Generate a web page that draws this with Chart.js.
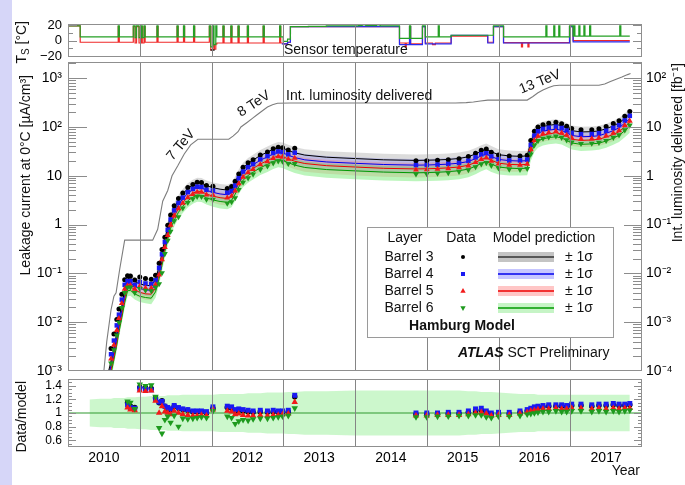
<!DOCTYPE html>
<html>
<head>
<meta charset="utf-8">
<title>SCT barrel leakage current</title>
<script src="https://cdn.jsdelivr.net/npm/chart.js"></script>
<style>
  html, body { margin: 0; padding: 0; background: #ffffff; }
  #page { position: relative; width: 685px; height: 485px; background: #ffffff; overflow: hidden; }
  #page canvas { position: absolute; left: 0; top: 0; }
  #edge { position: absolute; left: 0; top: 0; width: 12px; height: 485px; background: #d6d6f8; }
</style>
</head>
<body>
<div id="page">
  <div id="edge"></div>
  <canvas id="temp" width="685" height="485"></canvas>
  <canvas id="main" width="685" height="485"></canvas>
  <canvas id="ratio" width="685" height="485"></canvas>
</div>
<script>
// ---------------- data ----------------
const YEARS = ['2010', '2011', '2012', '2013', '2014', '2015', '2016', '2017'];
const YEAR_LINES = [2011, 2012, 2013, 2014, 2015, 2016, 2017];
const SERIES_NAMES = ['Barrel 3', 'Barrel 4', 'Barrel 5', 'Barrel 6'];
const LEAK_TICKS = [1e-3, 1e-2, 1e-1, 1, 10, 100, 1000];
const LUMI_TICKS = [1e-4, 1e-3, 1e-2, 1e-1, 1, 10, 100];
const RATIO_TICKS = [0.6, 0.8, 1, 1.2, 1.4];
const TEMP_TICKS = [-20, 0, 20];

// model prediction (Hamburg model), time in years
const MODEL_T = [
  2010.30, 2010.45, 2010.56, 2010.60, 2010.64, 2010.68, 2010.71, 2010.75, 2010.79, 2010.83,
  2010.87, 2010.93, 2011.00, 2011.08, 2011.16, 2011.22, 2011.27, 2011.31, 2011.35, 2011.39,
  2011.43, 2011.48, 2011.54, 2011.60, 2011.67, 2011.74, 2011.80, 2011.86, 2011.93, 2012.02,
  2012.12, 2012.22, 2012.28, 2012.33, 2012.38, 2012.44, 2012.51, 2012.58, 2012.68, 2012.78,
  2012.86, 2012.93, 2012.99, 2013.07, 2013.16, 2013.30, 2013.60, 2014.00, 2014.40, 2014.85,
  2015.00, 2015.15, 2015.30, 2015.45, 2015.58, 2015.68, 2015.76, 2015.83, 2015.90, 2016.00,
  2016.15, 2016.30, 2016.40, 2016.45, 2016.50, 2016.55, 2016.62, 2016.70, 2016.80, 2016.88,
  2016.95, 2017.02, 2017.15, 2017.30, 2017.40, 2017.50, 2017.60, 2017.68, 2017.76, 2017.83
];
const MODEL_B3 = [
  0.00005, 0.0003, 0.0009, 0.0016, 0.003, 0.006, 0.011, 0.022, 0.045, 0.078,
  0.080, 0.068, 0.061, 0.057, 0.056, 0.075, 0.14, 0.26, 0.50, 0.90,
  1.5, 2.2, 3.2, 4.2, 5.5, 6.5, 7.2, 7.1, 6.3, 5.7,
  5.3, 5.1, 5.6, 7.5, 10.5, 14.5, 18, 21, 26, 30.5,
  35, 38, 37, 33, 29.5, 26.5, 24, 22.5, 21.2, 20.6,
  20.8, 21.1, 21.6, 22.6, 24.5, 28, 32, 35, 31, 27,
  25.5, 25, 25.5, 50, 76, 92, 102, 108, 113, 106,
  95, 84, 79, 80, 83, 92, 105, 120, 150, 185
];
const MODEL_B4 = [
  0.00004, 0.00024, 0.00072, 0.0013, 0.0024, 0.0048, 0.0088, 0.0176, 0.036, 0.062,
  0.064, 0.054, 0.049, 0.046, 0.045, 0.06, 0.112, 0.21, 0.40, 0.72,
  1.2, 1.76, 2.56, 3.36, 4.4, 5.2, 5.76, 5.68, 5.04, 4.56,
  4.24, 4.08, 4.48, 6.0, 8.4, 11.6, 14.4, 16.8, 20.8, 24.4,
  28, 30.4, 29.6, 26.4, 23.6, 21.2, 19.2, 18, 17, 16.5,
  16.6, 16.9, 17.3, 18.1, 19.6, 22.4, 25.6, 28, 24.8, 21.6,
  20.4, 20, 20.4, 40, 61, 74, 82, 86, 90, 85,
  76, 67, 63, 64, 66, 74, 84, 96, 120, 148
];
const MODEL_B5 = [
  0.000034, 0.0002, 0.0006, 0.00107, 0.002, 0.004, 0.0074, 0.0147, 0.030, 0.052,
  0.054, 0.046, 0.041, 0.038, 0.0375, 0.05, 0.094, 0.174, 0.335, 0.60,
  1.0, 1.47, 2.14, 2.81, 3.69, 4.36, 4.82, 4.76, 4.22, 3.82,
  3.55, 3.42, 3.75, 5.0, 7.0, 9.7, 12.1, 14.1, 17.4, 20.4,
  23.5, 25.5, 24.8, 22.1, 19.8, 17.8, 16.1, 15.1, 14.2, 13.8,
  13.9, 14.1, 14.5, 15.1, 16.4, 18.8, 21.4, 23.5, 20.8, 18.1,
  17.1, 16.8, 17.1, 33.5, 51, 62, 68, 72, 76, 71,
  64, 56, 53, 54, 56, 62, 70, 80, 100, 124
];
const MODEL_B6 = [
  0.000028, 0.00017, 0.0005, 0.0009, 0.0017, 0.0034, 0.0062, 0.0123, 0.025, 0.044,
  0.045, 0.038, 0.034, 0.032, 0.031, 0.042, 0.078, 0.146, 0.28, 0.50,
  0.84, 1.23, 1.79, 2.35, 3.08, 3.64, 4.03, 3.98, 3.53, 3.19,
  2.97, 2.86, 3.14, 4.2, 5.9, 8.1, 10.1, 11.8, 14.6, 17.1,
  19.6, 21.3, 20.7, 18.5, 16.5, 14.8, 13.4, 12.6, 11.9, 11.5,
  11.6, 11.8, 12.1, 12.7, 13.7, 15.7, 17.9, 19.6, 17.4, 15.1,
  14.3, 14.0, 14.3, 28, 42.5, 51.5, 57, 60.5, 63, 59.5,
  53, 47, 44, 45, 46.5, 51.5, 59, 67, 84, 104
];
// relative model uncertainty (1 sigma)
const SIGMA = [
  0.20, 0.21, 0.21, 0.21, 0.22, 0.22, 0.22, 0.22, 0.22, 0.23,
  0.23, 0.23, 0.24, 0.24, 0.25, 0.25, 0.25, 0.25, 0.25, 0.26,
  0.26, 0.26, 0.26, 0.27, 0.27, 0.27, 0.27, 0.27, 0.27, 0.27,
  0.28, 0.28, 0.28, 0.28, 0.28, 0.28, 0.29, 0.29, 0.29, 0.30,
  0.30, 0.30, 0.30, 0.31, 0.31, 0.32, 0.32, 0.33, 0.33, 0.33,
  0.33, 0.33, 0.33, 0.33, 0.32, 0.32, 0.31, 0.31, 0.31, 0.30,
  0.29, 0.28, 0.28, 0.28, 0.28, 0.27, 0.27, 0.27, 0.27, 0.27,
  0.27, 0.27, 0.27, 0.27, 0.27, 0.27, 0.27, 0.27, 0.27, 0.27
];

// measured leakage current at 0 C [uA/cm3]
const DATA_T = [
  2010.60, 2010.64, 2010.68, 2010.71, 2010.75, 2010.79, 2010.83, 2010.87, 2010.93,
  2011.00, 2011.08, 2011.16, 2011.22, 2011.27, 2011.31, 2011.35, 2011.39, 2011.43, 2011.48, 2011.54, 2011.60, 2011.67, 2011.74, 2011.80, 2011.86, 2011.93,
  2012.02, 2012.22, 2012.28, 2012.33, 2012.38, 2012.44, 2012.51, 2012.58, 2012.68, 2012.78, 2012.86, 2012.93, 2012.99, 2013.07, 2013.16,
  2014.85, 2015.00, 2015.15, 2015.30, 2015.45, 2015.58, 2015.68, 2015.76, 2015.83, 2015.90,
  2016.00, 2016.15, 2016.30, 2016.40, 2016.45, 2016.50, 2016.55, 2016.62, 2016.70, 2016.80, 2016.88, 2016.95,
  2017.02, 2017.15, 2017.30, 2017.40, 2017.50, 2017.60, 2017.68, 2017.76, 2017.83
];
const DATA_B3 = [
  0.0029, 0.0057, 0.0114, 0.0187, 0.0374, 0.0743, 0.0897, 0.088, 0.0734,
  0.0842, 0.0781, 0.0762, 0.0915, 0.161, 0.307, 0.55, 0.963, 1.575, 2.42, 3.424, 4.41, 5.72, 6.63, 7.344, 7.242, 6.3,
  6.099, 5.508, 5.992, 7.725, 10.92, 14.94, 18.36, 21.21, 26.52, 30.81, 35.7, 38.38, 37.37, 33.66, 36.58,
  20.19, 20.38, 20.68, 21.38, 22.37, 24.75, 28.84, 33.28, 35.35, 30.38,
  26.73, 25.25, 25.25, 26.27, 52.5, 81.32, 99.36, 111.2, 118.8, 124.3, 116.6, 103.6,
  93.24, 87.69, 88, 92.13, 102.1, 117.6, 133.2, 166.5, 207.2
];
const DATA_B4 = [
  0.0022, 0.0042, 0.0086, 0.01426, 0.029, 0.0583, 0.0694, 0.0691, 0.0578,
  0.0666, 0.0621, 0.0603, 0.072, 0.13, 0.246, 0.44, 0.778, 1.272, 1.954, 2.765, 3.562, 4.62, 5.356, 5.933, 5.85, 5.141,
  4.97, 4.488, 4.883, 6.3, 8.904, 12.18, 14.98, 17.3, 21.63, 25.13, 29.12, 31.31, 30.49, 27.46, 29.74,
  16.5, 16.6, 16.9, 17.47, 18.28, 20.19, 23.74, 27.39, 28.84, 24.8,
  21.82, 20.6, 20.6, 21.42, 42.8, 66.49, 81.4, 91.02, 96.32, 100.8, 95.2, 84.36,
  75.71, 71.19, 71.68, 74.58, 83.62, 95.76, 108.5, 135.6, 168.7
];
const DATA_B5 = [
  0.00177, 0.0034, 0.0068, 0.012, 0.0243, 0.048, 0.0562, 0.0567, 0.0478,
  0.0545, 0.0502, 0.0499, 0.059, 0.094, 0.191, 0.342, 0.60, 0.98, 1.514, 2.14, 2.754, 3.579, 4.186, 4.627, 4.617, 4.051,
  4.011, 3.523, 3.825, 4.9, 6.93, 9.409, 11.62, 13.54, 16.88, 19.58, 22.8, 24.74, 24.3, 21.88, 22.97,
  13.25, 13.34, 13.68, 14.07, 14.65, 16.07, 18.8, 21.61, 23.27, 19.97,
  17.56, 16.59, 16.63, 17.27, 34.51, 53.04, 65.1, 72.08, 76.32, 81.32, 75.26, 67.84,
  59.92, 56.71, 57.24, 59.92, 65.72, 74.9, 84.8, 107, 132.7
];
const DATA_B6 = [
  0.00144, 0.0027, 0.0054, 0.00992, 0.0199, 0.04, 0.0515, 0.0518, 0.0403,
  0.0483, 0.0448, 0.0437, 0.0521, 0.0608, 0.102, 0.252, 0.475, 0.722, 1.181, 1.432, 2.162, 2.803, 3.349, 3.748, 3.741, 3.283,
  3.286, 2.717, 2.92, 3.528, 5.192, 7.29, 8.989, 10.74, 13.43, 15.73, 18.23, 20.02, 19.67, 17.76, 17.66,
  10.81, 10.9, 11.21, 11.5, 12.19, 13.15, 15.23, 17.36, 18.42, 16.18,
  14.35, 13.59, 13.44, 14.01, 27.72, 42.5, 52.02, 58.14, 61.71, 64.89, 60.69, 54.06,
  48.41, 45.32, 45.9, 47.9, 52.53, 60.77, 68.34, 86.52, 108.2
];

// integrated luminosity delivered [fb^-1]
const LUMI_T = [
  2010.50, 2010.54, 2010.60, 2010.64, 2010.67, 2010.72, 2010.79,
  2011.18, 2011.25, 2011.32, 2011.39, 2011.45, 2011.53, 2011.62, 2011.71, 2011.81,
  2012.24, 2012.30, 2012.37, 2012.41, 2012.50, 2012.57, 2012.64, 2012.71, 2012.78, 2012.85, 2012.92,
  2013.10,
  2015.40, 2015.55, 2015.65, 2015.75, 2015.85,
  2016.40, 2016.48, 2016.55, 2016.62, 2016.70, 2016.77, 2016.85,
  2017.40, 2017.48, 2017.56, 2017.64, 2017.72, 2017.80, 2017.84
];
const LUMI = [
  0.0001, 0.0004, 0.0018, 0.0034, 0.004, 0.012, 0.048,
  0.048, 0.08, 0.3, 0.5, 1.0, 1.6, 2.8, 4.3, 5.6,
  5.6, 6.5, 8.0, 10, 12.5, 15, 18, 21.5, 25.5, 28.5, 30.5,
  31,
  31, 31.5, 32.5, 34, 35.5,
  35.5, 42, 50, 57, 64, 70, 71.5,
  71.5, 76, 85, 95, 105, 118, 124
];

// sensor temperatures [C] as [time, value]; each value holds until the next entry
const TEMP_GREEN = [
  [2010.00, 19], [2010.17, 5], [2010.70, 19], [2010.715, 5], [2010.91, 19], [2010.935, 4], [2010.955, 19], [2010.99, 4],
  [2011.02, 19], [2011.035, 4], [2011.06, 19], [2011.075, 5], [2011.24, 19], [2011.255, 5], [2011.52, 19], [2011.535, 5],
  [2011.61, 19], [2011.625, 5], [2011.75, 19], [2011.765, 5], [2011.97, 19], [2011.99, -8], [2012.02, 19], [2012.035, -5],
  [2012.06, 19], [2012.075, 5], [2012.16, 19], [2012.175, 5], [2012.27, 19], [2012.285, 5], [2012.37, 19], [2012.385, 5],
  [2012.50, 19], [2012.515, 5], [2012.72, 19], [2012.735, 5], [2012.95, 19], [2012.965, 5], [2013.00, -1], [2013.06, 2],
  [2013.10, 18], [2013.35, 18.5], [2013.60, 19], [2014.05, 19.5], [2014.10, 20.5], [2014.15, 19.5], [2014.30, 20.5], [2014.35, 19],
  [2014.62, 3], [2014.76, 19], [2014.775, 3], [2014.94, 19], [2014.98, 5], [2015.16, 19], [2015.175, 5], [2015.34, 7],
  [2015.93, 19], [2016.07, 5], [2016.66, 19], [2016.675, 5], [2016.77, 19], [2016.785, 5], [2016.84, 19], [2016.855, 5],
  [2016.99, 19], [2017.04, 6], [2017.05, 19], [2017.065, 6], [2017.12, 19], [2017.135, 6], [2017.19, 19], [2017.205, 6],
  [2017.27, 19], [2017.285, 6], [2017.69, 19], [2017.705, 6], [2017.83, 6]
];
const TEMP_RED = [
  [2010.00, 19], [2010.17, -2], [2010.70, 18], [2010.715, -2], [2010.91, 18], [2010.935, -3], [2010.955, 18], [2010.99, -3],
  [2011.02, 18], [2011.035, -3], [2011.06, 18], [2011.075, -2], [2011.24, 18], [2011.255, -2], [2011.52, 18], [2011.535, -2],
  [2011.61, 18], [2011.625, -2], [2011.75, 18], [2011.765, -2], [2011.97, 18], [2011.99, -12], [2012.02, -5], [2012.04, -11],
  [2012.06, -4], [2012.075, -3], [2012.16, 18], [2012.175, -3], [2012.27, 18], [2012.285, -3], [2012.37, 18], [2012.385, -3],
  [2012.50, 18], [2012.515, -3], [2012.72, 18], [2012.735, -3], [2012.95, 18], [2012.965, -3], [2013.00, -4], [2013.06, -2],
  [2013.10, 18], [2014.62, -3], [2014.70, -8], [2014.715, -3], [2014.76, 18], [2014.775, -4], [2014.94, 18], [2014.98, -3],
  [2015.08, -5], [2015.12, -3], [2015.34, 6], [2015.85, -2], [2015.93, 18], [2016.07, -2.5], [2016.32, -8], [2016.335, -2.5],
  [2016.41, -8], [2016.425, -2.5], [2016.99, 18], [2017.04, 0], [2017.83, 0]
];
const TEMP_BLUE = [
  [2012.98, -4], [2013.06, -2], [2013.10, 18], [2014.62, -5], [2014.76, 18], [2014.775, -5], [2014.94, 18], [2014.98, -4],
  [2015.34, 7], [2015.85, -3], [2015.93, 18], [2016.07, -3], [2016.99, 18], [2017.04, -1.5], [2017.83, -1.5]
];
const TEMP_BLACK = [[2011.985, -12], [2012.045, -12]];

// ---------------- drawing ----------------
const FAMILY = '"Liberation Sans", Arial, Helvetica, sans-serif';
Chart.defaults.font.family = FAMILY;
Chart.defaults.font.size = 14;
Chart.defaults.color = '#000000';

const AXIS_W = 68;   // room for the left axis
const RIGHT_W = 43;  // room right of the frame
const GRID = '#858585';

function fontStr(size, style) { return (style ? style + ' ' : '') + size + 'px ' + FAMILY; }

const SUP = { '-': '\u207B', '0': '\u2070', '1': '\u00B9', '2': '\u00B2', '3': '\u00B3', '4': '\u2074' };
function powLabel(v) {
  const e = Math.round(Math.log10(v));
  if (e === 0) return '1';
  if (e === 1) return '10';
  return '10' + String(e).split('').map(c => SUP[c]).join('');
}
function logMinor(lo, hi) {
  const out = [];
  for (let e = Math.floor(Math.log10(lo)); e <= Math.ceil(Math.log10(hi)); e++) {
    for (let m = 2; m <= 9; m++) { const v = m * Math.pow(10, e); if (v > lo && v < hi) out.push(v); }
  }
  return out;
}
function linMinor(lo, hi, step, majors) {
  const out = [];
  for (let k = Math.ceil(lo / step); k * step <= hi; k++) {
    const v = Math.round(k * step * 1000) / 1000;
    if (!majors.some(m => Math.abs(m - v) < 1e-6)) out.push(v);
  }
  return out;
}

// frame, year grid lines and inward tick marks
function frame(axes) {
  return {
    id: 'rootFrame',
    afterDatasetsDraw(chart) {
      const { ctx, chartArea: a } = chart;
      const xs = chart.scales.x;
      ctx.save();
      ctx.strokeStyle = GRID;
      ctx.lineWidth = 1;
      ctx.beginPath();
      YEAR_LINES.forEach(yr => {
        const px = Math.round(xs.getPixelForValue(yr)) + 0.5;
        ctx.moveTo(px, a.top); ctx.lineTo(px, a.bottom);
      });
      ctx.stroke();
      ctx.strokeStyle = '#8c8c8c';
      ctx.beginPath();
      axes.forEach(ax => {
        const s = chart.scales[ax.id];
        const put = (v, len) => {
          const y = Math.round(s.getPixelForValue(v)) + 0.5;
          if (y < a.top + 1 || y > a.bottom - 1) return;
          if (ax.left) { ctx.moveTo(a.left, y); ctx.lineTo(a.left + len, y); }
          if (ax.right) { ctx.moveTo(a.right, y); ctx.lineTo(a.right - len, y); }
        };
        ax.major.forEach(v => put(v, ax.majorLen));
        ax.minor.forEach(v => put(v, ax.minorLen));
      });
      ctx.stroke();
      ctx.strokeStyle = '#8f8f8f';
      ctx.strokeRect(a.left + 0.5, a.top + 0.5, a.width - 1, a.height - 1);
      ctx.restore();
    }
  };
}

function vTitle(ctx, txt, x, yTop) {
  ctx.save();
  ctx.translate(x, yTop);
  ctx.rotate(-Math.PI / 2);
  ctx.textAlign = 'right';
  ctx.textBaseline = 'middle';
  ctx.fillText(txt, 0, 0);
  ctx.restore();
}
function rotText(ctx, txt, x, y, deg) {
  ctx.save();
  ctx.translate(x, y);
  ctx.rotate(deg * Math.PI / 180);
  ctx.textAlign = 'center';
  ctx.textBaseline = 'middle';
  ctx.fillText(txt, 0, 0);
  ctx.restore();
}
function drawMarker(ctx, style, x, y, r, color) {
  ctx.fillStyle = color;
  ctx.beginPath();
  if (style === 'circle') ctx.arc(x, y, r, 0, Math.PI * 2);
  else if (style === 'rect') ctx.rect(x - r, y - r, 2 * r, 2 * r);
  else if (style === 'up') { ctx.moveTo(x, y - r); ctx.lineTo(x + r * 0.9, y + r * 0.6); ctx.lineTo(x - r * 0.9, y + r * 0.6); ctx.closePath(); }
  else { ctx.moveTo(x, y + r); ctx.lineTo(x + r * 0.9, y - r * 0.6); ctx.lineTo(x - r * 0.9, y - r * 0.6); ctx.closePath(); }
  ctx.fill();
}

const xHidden = () => ({ type: 'linear', min: 2010, max: 2018, display: false });
const baseOpts = { responsive: false, animation: false, events: [], normalized: true };

// ---- temperature panel ----
function stepSet(pairs, color) {
  return {
    data: pairs.map(p => ({ x: p[0], y: p[1] })),
    borderColor: color, borderWidth: 1.2, pointRadius: 0, stepped: true, fill: false
  };
}
const tempDecor = {
  id: 'tempDecor',
  afterDraw(chart) {
    const ctx = chart.ctx;
    ctx.save();
    ctx.fillStyle = '#111';
    ctx.font = fontStr(14);
    ctx.textAlign = 'left';
    ctx.textBaseline = 'middle';
    ctx.fillText('Sensor temperature', 284, 50);
    // axis title T_S [°C]
    ctx.translate(22, 21);
    ctx.rotate(-Math.PI / 2);
    const big = fontStr(14), small = fontStr(10);
    ctx.font = big; const wT = ctx.measureText('T').width; const wR = ctx.measureText(' [\u00B0C]').width;
    ctx.font = small; const wS = ctx.measureText('S').width;
    let cx = -(wT + wS + wR);
    ctx.font = big; ctx.fillText('T', cx, 0); cx += wT;
    ctx.font = small; ctx.fillText('S', cx, 4); cx += wS;
    ctx.font = big; ctx.fillText(' [\u00B0C]', cx, 0);
    ctx.restore();
  }
};
new Chart(document.getElementById('temp'), {
  type: 'line',
  data: { datasets: [
    stepSet(TEMP_BLACK, '#000000'),
    stepSet(TEMP_GREEN, '#25a025'),
    stepSet(TEMP_BLUE, '#2a2af0'),
    stepSet(TEMP_RED, '#f02828')
  ] },
  options: Object.assign({}, baseOpts, {
    layout: { padding: { left: 0, right: RIGHT_W, top: 24, bottom: 428 } },
    plugins: { legend: { display: false }, tooltip: { enabled: false } },
    scales: {
      x: xHidden(),
      y: {
        type: 'linear', min: -21, max: 21.5, position: 'left',
        afterFit: s => { s.width = AXIS_W; },
        afterBuildTicks: s => { s.ticks = TEMP_TICKS.map(v => ({ value: v })); },
        grid: { display: false, drawTicks: false }, border: { display: false },
        ticks: { padding: 6, autoSkip: false, font: { size: 13 }, callback: v => (v < 0 ? '\u2212' + (-v) : String(v)) }
      }
    }
  }),
  plugins: [frame([{ id: 'y', left: true, right: true, major: TEMP_TICKS, minor: [-10, 10], majorLen: 9, minorLen: 5 }]), tempDecor]
});

// ---- main panel ----
const series = [
  { model: MODEL_B3, data: DATA_B3, line: '#000000', mark: '#000000', style: 'circle', r: 2.5, rot: 0, band: 'rgba(120,120,120,0.26)', key: '#c4c4c4', legend: 'circle' },
  { model: MODEL_B4, data: DATA_B4, line: '#0000ee', mark: '#1a1af2', style: 'rect', r: 3.2, rot: 0, band: 'rgba(90,90,255,0.24)', key: '#c6c6ff', legend: 'rect' },
  { model: MODEL_B5, data: DATA_B5, line: '#ee0000', mark: '#f21a1a', style: 'triangle', r: 3.4, rot: 0, band: 'rgba(255,90,90,0.24)', key: '#ffc6c6', legend: 'up' },
  { model: MODEL_B6, data: DATA_B6, line: '#009a00', mark: '#1e9a1e', style: 'triangle', r: 3.4, rot: 180, band: 'rgba(80,230,80,0.38)', key: '#c6f4c6', legend: 'down' }
];
const pointsOf = (vals) => DATA_T.map((t, i) => ({ x: t, y: vals[i] }));
const curveOf = (vals) => MODEL_T.map((t, i) => ({ x: t, y: vals[i] }));
function markSet(s, pts, scale) {
  return {
    data: pts, showLine: false, fill: false,
    pointStyle: s.style, pointRotation: s.rot, pointRadius: s.r * scale,
    pointBackgroundColor: s.mark, pointBorderColor: s.mark, pointBorderWidth: 0
  };
}
function lineSet(pts, color, width, axis) {
  return { data: pts, borderColor: color, borderWidth: width, pointRadius: 0, fill: false, yAxisID: axis || 'y' };
}
function bandSets(hi, lo, color) {
  return [
    { data: hi, borderWidth: 0, pointRadius: 0, fill: false },
    { data: lo, borderWidth: 0, pointRadius: 0, fill: '-1', backgroundColor: color }
  ];
}

const mainSets = [];
series.slice().reverse().forEach(s => mainSets.push(markSet(s, pointsOf(s.data), 1)));
series.forEach(s => mainSets.push(lineSet(curveOf(s.model), s.line, 1)));
mainSets.push(lineSet(LUMI_T.map((t, i) => ({ x: t, y: LUMI[i] })), '#7d7d7d', 1.1, 'yR'));
series.slice().reverse().forEach(s => {
  const hi = MODEL_T.map((t, i) => ({ x: t, y: s.model[i] * (1 + SIGMA[i]) }));
  const lo = MODEL_T.map((t, i) => ({ x: t, y: s.model[i] * (1 - SIGMA[i]) }));
  bandSets(hi, lo, s.band).forEach(d => mainSets.push(d));
});

const mainDecor = {
  id: 'mainDecor',
  afterDraw(chart) {
    const ctx = chart.ctx;
    ctx.save();
    ctx.fillStyle = '#111';
    ctx.font = fontStr(14);
    vTitle(ctx, 'Leakage current at 0\u00B0C [\u00B5A/cm\u00B3]', 26, 75);
    vTitle(ctx, 'Int. luminosity delivered [fb\u207B\u00B9]', 678, 63);
    rotText(ctx, '7 TeV', 181, 145, -50);
    rotText(ctx, '8 TeV', 254, 104, -33);
    rotText(ctx, '13 TeV', 540, 82, -22);
    ctx.textAlign = 'left';
    ctx.textBaseline = 'middle';
    ctx.fillText('Int. luminosity delivered', 286, 96);

    // legend box
    const bx = 367, by = 227, bw = 246, bh = 110;
    ctx.fillStyle = '#ffffff';
    ctx.fillRect(bx, by, bw, bh);
    ctx.strokeStyle = '#9a9a9a';
    ctx.lineWidth = 1;
    ctx.strokeRect(bx + 0.5, by + 0.5, bw, bh);
    ctx.fillStyle = '#111';
    ctx.textAlign = 'center';
    ctx.fillText('Layer', 405, 238);
    ctx.fillText('Data', 461, 238);
    ctx.fillText('Model prediction', 544, 238);
    series.forEach((s, i) => {
      const y = 257 + i * 17;
      ctx.fillStyle = '#111';
      ctx.textAlign = 'center';
      ctx.fillText(SERIES_NAMES[i], 409, y);
      const r = s.legend === 'circle' ? 2 : (s.legend === 'rect' ? 2 : 3);
      drawMarker(ctx, s.legend, 463, y, r, s.mark);
      ctx.fillStyle = s.key;
      ctx.fillRect(498, y - 5, 56, 10);
      ctx.strokeStyle = s.legend === 'circle' ? '#333333' : s.line;
      ctx.lineWidth = 1.5;
      ctx.beginPath(); ctx.moveTo(498, y); ctx.lineTo(554, y); ctx.stroke();
      ctx.fillStyle = '#111';
      ctx.textAlign = 'left';
      ctx.fillText('\u00B1 1\u03C3', 565, y);
    });
    ctx.font = fontStr(14, 'bold');
    ctx.textAlign = 'center';
    ctx.fillText('Hamburg Model', 462, 326);
    ctx.textAlign = 'left';
    ctx.font = fontStr(14, 'italic bold');
    ctx.fillText('ATLAS', 458, 353);
    const w = ctx.measureText('ATLAS ').width;
    ctx.font = fontStr(14);
    ctx.fillText('SCT Preliminary', 458 + w, 353);
    ctx.restore();
  }
};

new Chart(document.getElementById('main'), {
  type: 'line',
  data: { datasets: mainSets },
  options: Object.assign({}, baseOpts, {
    layout: { padding: { left: 0, right: 0, top: 62, bottom: 114 } },
    plugins: { legend: { display: false }, tooltip: { enabled: false } },
    scales: {
      x: xHidden(),
      y: {
        type: 'logarithmic', min: 1e-3, max: 2140, position: 'left',
        afterFit: s => { s.width = AXIS_W; },
        afterBuildTicks: s => { s.ticks = LEAK_TICKS.map(v => ({ value: v })); },
        grid: { display: false, drawTicks: false }, border: { display: false },
        ticks: { padding: 6, autoSkip: false, font: { size: 14 }, callback: v => powLabel(v) }
      },
      yR: {
        type: 'logarithmic', min: 1e-4, max: 214, position: 'right',
        afterFit: s => { s.width = RIGHT_W; },
        afterBuildTicks: s => { s.ticks = LUMI_TICKS.map(v => ({ value: v })); },
        grid: { display: false, drawTicks: false }, border: { display: false },
        ticks: { padding: 4, autoSkip: false, font: { size: 14 }, callback: v => powLabel(v) }
      }
    }
  }),
  plugins: [frame([
    { id: 'y', left: true, right: false, major: LEAK_TICKS, minor: logMinor(1e-3, 2140), majorLen: 19, minorLen: 8 },
    { id: 'yR', left: false, right: true, major: LUMI_TICKS, minor: logMinor(1e-4, 214), majorLen: 18, minorLen: 9 }
  ]), mainDecor]
});

// ---- data / model panel ----
const ratioSets = [];
series.slice().reverse().forEach(s => {
  const pts = DATA_T.map((t, i) => ({ x: t, y: s.data[i] / s.model[MODEL_T.indexOf(t)] }));
  ratioSets.push(markSet(s, pts, 1.1));
});
ratioSets.push(lineSet([{ x: 2010, y: 1 }, { x: 2018, y: 1 }], '#2f9a2f', 1.2));
bandSets(
  MODEL_T.map((t, i) => ({ x: t, y: 1 + SIGMA[i] })),
  MODEL_T.map((t, i) => ({ x: t, y: 1 - SIGMA[i] })),
  'rgba(120,235,120,0.38)'
).forEach(d => ratioSets.push(d));

const ratioDecor = {
  id: 'ratioDecor',
  afterDraw(chart) {
    const ctx = chart.ctx;
    ctx.save();
    ctx.fillStyle = '#111';
    ctx.font = fontStr(14);
    vTitle(ctx, 'Data/model', 22, 381);
    ctx.textAlign = 'right';
    ctx.textBaseline = 'alphabetic';
    ctx.fillText('Year', 640, 475);
    ctx.restore();
  }
};

new Chart(document.getElementById('ratio'), {
  type: 'line',
  data: { datasets: ratioSets },
  options: Object.assign({}, baseOpts, {
    layout: { padding: { left: 0, right: RIGHT_W, top: 379, bottom: 0 } },
    plugins: { legend: { display: false }, tooltip: { enabled: false } },
    scales: {
      x: {
        type: 'linear', min: 2010, max: 2018, position: 'bottom',
        afterFit: s => { s.height = 38; },
        afterBuildTicks: s => { s.ticks = YEARS.map((y, i) => ({ value: 2010.5 + i })); },
        grid: { display: false, drawTicks: false }, border: { display: false },
        ticks: { padding: 3, autoSkip: false, maxRotation: 0, font: { size: 14 }, callback: (v, i) => YEARS[i] }
      },
      y: {
        type: 'linear', min: 0.5, max: 1.5, position: 'left',
        afterFit: s => { s.width = AXIS_W; },
        afterBuildTicks: s => { s.ticks = RATIO_TICKS.map(v => ({ value: v })); },
        grid: { display: false, drawTicks: false }, border: { display: false },
        ticks: { padding: 6, autoSkip: false, font: { size: 12 }, callback: v => String(v) }
      }
    }
  }),
  plugins: [frame([{ id: 'y', left: true, right: true, major: RATIO_TICKS, minor: linMinor(0.5, 1.5, 0.05, RATIO_TICKS), majorLen: 8, minorLen: 4 }]), ratioDecor]
});
</script>
</body>
</html>
